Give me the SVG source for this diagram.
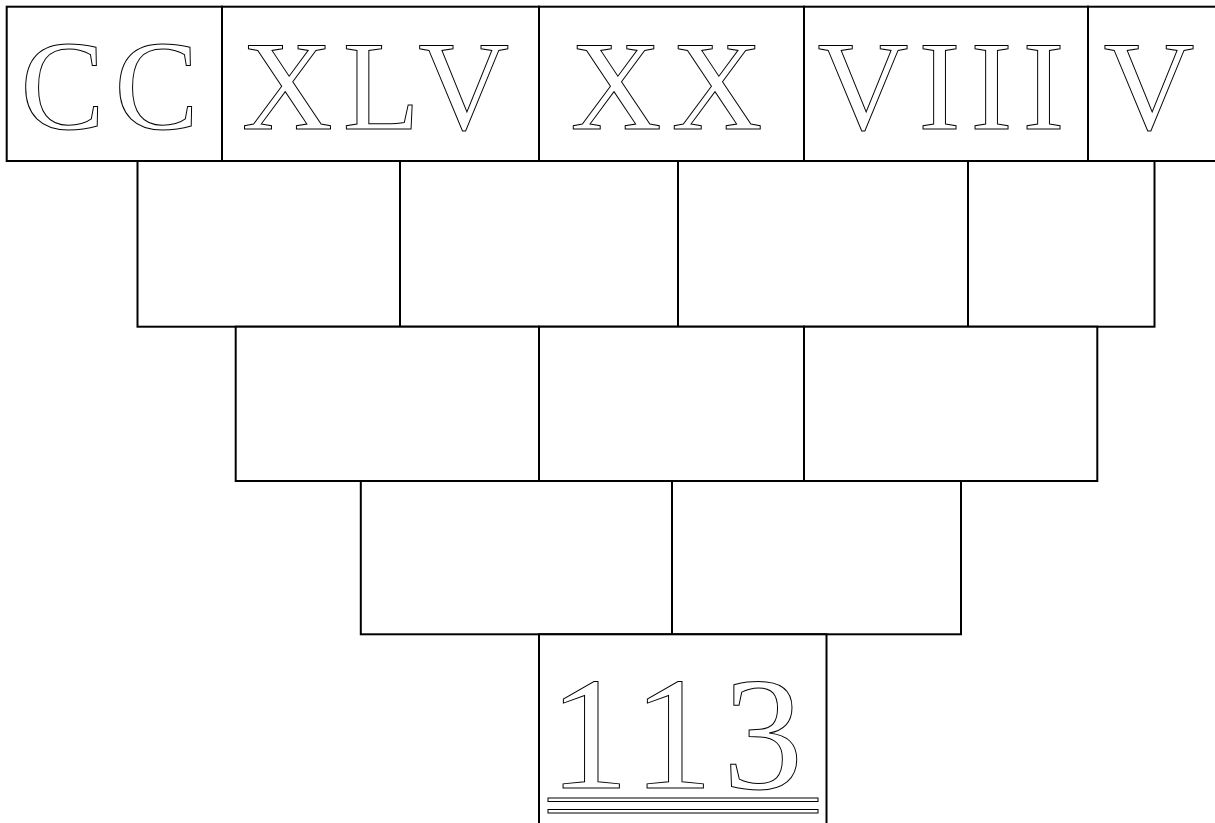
<svg xmlns="http://www.w3.org/2000/svg" width="1215" height="823" viewBox="0 0 1215 823">
<style>
.box{fill:#fff;stroke:#000;stroke-width:2}
.lbl{font-family:"Liberation Serif","Times New Roman",serif;font-size:126px;letter-spacing:10px;fill:#fff;stroke:#000;stroke-width:1;text-anchor:middle}
.big{font-family:"Liberation Serif","Times New Roman",serif;font-size:160px;letter-spacing:10px;fill:#fff;stroke:#000;stroke-width:1}
.ul{fill:#fff;stroke:#000;stroke-width:1}
</style>
<rect width="1215" height="823" fill="#fff"/>
<g id="row1">
  <g id="n-cc"><rect class="box" x="6.7" y="6.7" width="215.3" height="154.3"/><text class="lbl" x="114.5" y="129">CC</text></g>
  <g id="n-xlv"><rect class="box" x="222" y="6.7" width="317" height="154.3"/><text class="lbl" x="380.5" y="129">XLV</text></g>
  <g id="n-xx"><rect class="box" x="539" y="6.7" width="265" height="154.3"/><text class="lbl" x="671.5" y="129">XX</text></g>
  <g id="n-viii"><rect class="box" x="804" y="6.7" width="284" height="154.3"/><text class="lbl" x="946" y="129">VIII</text></g>
  <g id="n-v"><rect class="box" x="1088" y="6.7" width="140" height="154.3"/><text class="lbl" x="1154" y="129">V</text></g>
</g>
<g id="row2">
  <g id="n-r2a"><rect class="box" x="137.5" y="161" width="262.5" height="165.7"/></g>
  <g id="n-r2b"><rect class="box" x="400" y="161" width="278" height="165.7"/></g>
  <g id="n-r2c"><rect class="box" x="678" y="161" width="290" height="165.7"/></g>
  <g id="n-r2d"><rect class="box" x="968" y="161" width="186.5" height="165.7"/></g>
</g>
<g id="row3">
  <g id="n-r3a"><rect class="box" x="235.7" y="326.7" width="303.3" height="154.3"/></g>
  <g id="n-r3b"><rect class="box" x="539" y="326.7" width="265" height="154.3"/></g>
  <g id="n-r3c"><rect class="box" x="804" y="326.7" width="293.3" height="154.3"/></g>
</g>
<g id="row4">
  <g id="n-r4a"><rect class="box" x="360.8" y="481" width="311.2" height="153.3"/></g>
  <g id="n-r4b"><rect class="box" x="672" y="481" width="289" height="153.3"/></g>
</g>
<g id="row5">
  <g id="n-result"><rect class="box" x="539" y="634.3" width="287.5" height="220"/>
    <text class="big" x="549" y="788">113</text>
    <rect class="ul" x="548" y="798" width="270" height="3.5"/>
    <rect class="ul" x="548" y="809.5" width="270" height="3.5"/>
  </g>
</g>
<g id="connectors"/>
</svg>
